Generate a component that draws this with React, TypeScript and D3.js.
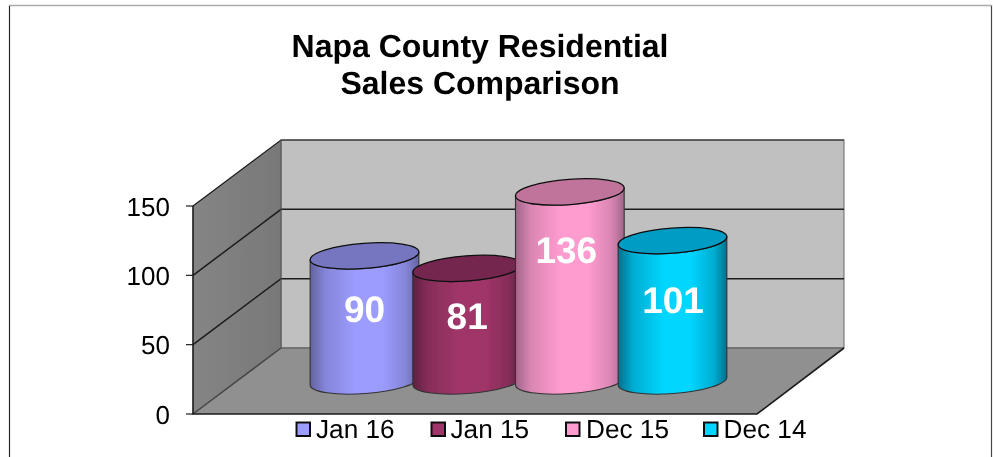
import React from "react";
import * as d3 from "d3";

const titleLines = ["Napa County Residential", "Sales Comparison"];
const categories = ["Jan 16", "Jan 15", "Dec 15", "Dec 14"];
const values = [90, 81, 136, 101];
const bodyColors = ["#9c9cff", "#a03569", "#ff9ccf", "#00d6ff"];
const topColors = ["#7676c0", "#752650", "#c0739b", "#009cc4"];
const edgeColors = ["#63639f", "#5f2142", "#a0668a", "#00708f"];
const ticks = [0, 50, 100, 150];

const W = 993, H = 457;
const FONT = "'Liberation Sans', Arial, Helvetica, sans-serif";
const LINE = "#1c1c1c";

// Box geometry
const frontX = 193, backDx = 88, backDy = 66, backRight = 844, frontRight = 757;
const yFront = d3.scaleLinear().domain([0, 150]).range([414, 206]);
const yBack = (v: number) => yFront(v) - backDy;

// Cylinders
const yCyl = d3.scaleLinear().domain([0, 150]).range([381, 172.5]);
const xCyl = d3.scalePoint<string>().domain(categories).range([364.5, 672.5]);
const RX = 54.5, RY = 12.6, TILT = -4.3;
const dx = RX * Math.cos((TILT * Math.PI) / 180);
const dy = RX * Math.sin((TILT * Math.PI) / 180);

// label offsets from the middle of each cylinder (hand placed in the original)
const labelNudge = [
  [0, 3.5],
  [0, 4.3],
  [-3.5, -23.5],
  [0.5, 2.2],
];
const legendMarkerX = [296.5, 431.5, 566, 704];
const legendTextX = [316, 450.5, 586, 723.5];

function bodyPath(cx: number, top: number, bottom: number) {
  const p = d3.path();
  p.moveTo(cx - dx, top - dy);
  p.lineTo(cx - dx, bottom - dy);
  const a = `A${RX} ${RY} ${TILT} 0 0 ${cx + dx} ${bottom + dy}`;
  const b = `A${RX} ${RY} ${TILT} 0 1 ${cx - dx} ${top - dy}`;
  return `${p.toString()}${a}L${cx + dx} ${top + dy}${b}Z`;
}

export default function App() {
  const poly = (pts: number[][]) => pts.map((q) => q.join(",")).join(" ");
  return (
    <svg
      width={W}
      height={H}
      viewBox={`0 0 ${W} ${H}`}
      style={{ position: "absolute", left: 0, top: 0, background: "#fff", textRendering: "geometricPrecision" }}
      fontFamily={FONT}
    >
      <defs>
        <filter id="soft" x="-5%" y="-5%" width="110%" height="110%">
          <feGaussianBlur stdDeviation="0.45" />
        </filter>
        <linearGradient id="wall" x1="0" x2="1" y1="0" y2="0">
          <stop offset="0" stopColor="#858585" />
          <stop offset="1" stopColor="#787878" />
        </linearGradient>
        {categories.map((c, i) => (
          <linearGradient key={c} id={`g${i}`} x1="0" x2="1" y1="0" y2="0">
            <stop offset="0" stopColor={edgeColors[i]} />
            <stop offset="0.14" stopColor={d3.interpolateRgb(edgeColors[i], bodyColors[i])(0.6)} />
            <stop offset="0.42" stopColor={bodyColors[i]} />
            <stop offset="0.66" stopColor={bodyColors[i]} />
            <stop offset="0.88" stopColor={d3.interpolateRgb(edgeColors[i], bodyColors[i])(0.6)} />
            <stop offset="1" stopColor={edgeColors[i]} />
          </linearGradient>
        ))}
      </defs>

      <g filter="url(#soft)">
        {/* page frame */}
        <path d="M9.5 457V5.5H991.5V457" fill="none" stroke="#aaa" strokeWidth={1.4} />
        <path d="M9.5 457V6" fill="none" stroke="#222" strokeWidth={1} />
        <path d="M991.5 457V6" fill="none" stroke="#444" strokeWidth={1} />

        {/* back wall */}
        <rect
          x={frontX + backDx}
          y={yBack(150)}
          width={backRight - frontX - backDx}
          height={yBack(0) - yBack(150)}
          fill="#c0c0c0"
          stroke="#666"
          strokeWidth={1}
        />
        {/* side wall */}
        <polygon
          points={poly([
            [frontX, yFront(150)],
            [frontX + backDx, yBack(150)],
            [frontX + backDx, yBack(0)],
            [frontX, yFront(0)],
          ])}
          fill="url(#wall)"
        />
        {/* floor */}
        <polygon
          points={poly([
            [frontX, yFront(0)],
            [frontX + backDx, yBack(0)],
            [backRight, yBack(0)],
            [frontRight, yFront(0)],
          ])}
          fill="#909090"
        />
        {/* grid */}
        {ticks.map((t) => (
          <path
            key={t}
            d={`M${frontX} ${yFront(t)}L${frontX + backDx} ${yBack(t)}${t === 0 ? "" : `H${backRight}`}`}
            fill="none"
            stroke={t === 0 ? "#444" : LINE}
            strokeWidth={t === 150 ? 1.2 : 1.5}
          />
        ))}
        <path
          d={`M${frontX + backDx} ${yBack(150)}V${yBack(0)}H${backRight}`}
          fill="none"
          stroke="#555"
          strokeWidth={1}
        />
        <path d={`M${frontX} ${yFront(150)}V${yFront(0)}H${frontRight}L${backRight} ${yBack(0)}`} fill="none" stroke={LINE} strokeWidth={1.6} />
        {/* axis ticks and labels */}
        {ticks.map((t) => (
          <g key={t}>
            <path d={`M186 ${yFront(t)}H${frontX}`} stroke={LINE} strokeWidth={1.2} />
            <text x={170} y={yFront(t) + 9.5} fontSize={26} textAnchor="end" fill="#000">
              {t}
            </text>
          </g>
        ))}

        {/* cylinders */}
        {categories.map((c, i) => {
          const cx = xCyl(c) as number;
          const top = yCyl(values[i]);
          const bottom = yCyl(0);
          return (
            <g key={c}>
              <path d={bodyPath(cx, top, bottom)} fill={`url(#g${i})`} stroke="#333" strokeWidth={1.1} />
              <ellipse
                cx={0}
                cy={0}
                rx={RX}
                ry={RY}
                transform={`translate(${cx},${top}) rotate(${TILT})`}
                fill={topColors[i]}
                stroke="#111"
                strokeWidth={1.3}
              />
            </g>
          );
        })}

        {/* data labels */}
        {categories.map((c, i) => {
          const cx = xCyl(c) as number;
          const mid = (yCyl(values[i]) + yCyl(0)) / 2;
          return (
            <text
              key={c}
              x={cx + labelNudge[i][0]}
              y={mid + labelNudge[i][1]}
              fontSize={37}
              fontWeight="bold"
              textAnchor="middle"
              fill="#fff"
            >
              {values[i]}
            </text>
          );
        })}

        {/* title */}
        {titleLines.map((t, i) => (
          <text key={t} x={480} y={57 + i * 37} fontSize={32} fontWeight="bold" textAnchor="middle" fill="#000">
            {t}
          </text>
        ))}

        {/* legend */}
        {categories.map((c, i) => (
          <g key={c}>
            <rect
              x={legendMarkerX[i]}
              y={422.5}
              width={13.5}
              height={13.5}
              fill={bodyColors[i]}
              stroke="#111"
              strokeWidth={2}
            />
            <text x={legendTextX[i]} y={437.5} fontSize={26.2} fill="#000">
              {c}
            </text>
          </g>
        ))}
      </g>
    </svg>
  );
}
